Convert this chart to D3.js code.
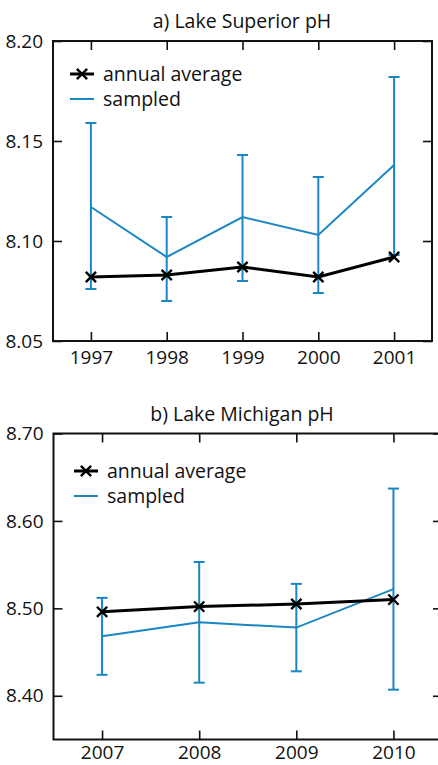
<!doctype html>
<html>
<head>
<meta charset="utf-8">
<script src="https://d3js.org/d3.v7.min.js"></script>
<style>
  body { margin: 0; background: #fff; }
  text { font-family: 'Open Sans', sans-serif; fill: #111; }
  .title { font-size: 19.5px; text-anchor: middle; }
  .tick text { font-size: 19px; }
  .legend { font-size: 19.5px; }
</style>
</head>
<body>
<svg id="chart" width="438" height="765"></svg>
<script>
// a) Lake Superior
const supYears = [1997, 1998, 1999, 2000, 2001];
const supSampled = [8.117, 8.092, 8.112, 8.103, 8.138];
const supUpper = [8.159, 8.112, 8.143, 8.132, 8.182];
const supLower = [8.076, 8.070, 8.080, 8.074, 8.093];
const supAverage = [8.082, 8.083, 8.087, 8.082, 8.092];
const supTicks = [8.05, 8.10, 8.15, 8.20];

// b) Lake Michigan
const micYears = [2007, 2008, 2009, 2010];
const micSampled = [8.468, 8.484, 8.478, 8.522];
const micUpper = [8.512, 8.553, 8.528, 8.637];
const micLower = [8.424, 8.415, 8.428, 8.407];
const micAverage = [8.496, 8.502, 8.505, 8.510];
const micTicks = [8.40, 8.50, 8.60, 8.70];

const blue = "#1a86c3";
const svg = d3.select("#chart");

function drawPanel(p) {
  const g = svg.append("g");
  const x = d3.scaleLinear().domain(p.xdom).range([p.left, p.right]);
  const y = d3.scaleLinear().domain(p.ydom).range([p.bottom, p.top]);
  const tl = 9;

  // ticks, all pointing inward
  g.append("g").attr("transform", `translate(0,${p.bottom})`)
    .call(d3.axisBottom(x).tickValues(p.years).tickFormat(d3.format("d")).tickSizeInner(-tl).tickSizeOuter(0).tickPadding(p.xpad))
    .call(a => a.select(".domain").remove());
  g.append("g").attr("transform", `translate(0,${p.top})`)
    .call(d3.axisTop(x).tickValues(p.years).tickFormat("").tickSizeInner(-tl).tickSizeOuter(0))
    .call(a => a.select(".domain").remove());
  g.append("g").attr("transform", `translate(${p.left},0)`)
    .call(d3.axisLeft(y).tickValues(p.yticks).tickFormat(d3.format(".2f")).tickSizeInner(-tl).tickSizeOuter(0).tickPadding(10))
    .call(a => a.select(".domain").remove());
  g.append("g").attr("transform", `translate(${p.right},0)`)
    .call(d3.axisRight(y).tickValues(p.yticks).tickFormat("").tickSizeInner(-tl).tickSizeOuter(0))
    .call(a => a.select(".domain").remove());
  g.selectAll(".tick line").attr("stroke", "#111").attr("stroke-width", 1.6);

  g.append("rect")
    .attr("x", p.left).attr("y", p.top)
    .attr("width", p.right - p.left).attr("height", p.bottom - p.top)
    .attr("fill", "none").attr("stroke", "#111").attr("stroke-width", 2);

  g.append("text").attr("class", "title")
    .attr("x", 242).attr("y", p.titleY).text(p.title);

  const rows = p.years.map((yr, i) => ({yr, s: p.sampled[i], hi: p.upper[i], lo: p.lower[i], avg: p.average[i]}));

  // error bars
  const eb = g.append("g").attr("stroke", blue).attr("stroke-width", 2);
  eb.selectAll(".bar").data(rows).join("line")
    .attr("x1", d => x(d.yr)).attr("x2", d => x(d.yr))
    .attr("y1", d => y(d.hi)).attr("y2", d => y(d.lo));
  eb.selectAll(".capHi").data(rows).join("line").attr("class", "capHi")
    .attr("x1", d => x(d.yr) - 5.5).attr("x2", d => x(d.yr) + 5.5)
    .attr("y1", d => y(d.hi)).attr("y2", d => y(d.hi));
  eb.selectAll(".capLo").data(rows).join("line").attr("class", "capLo")
    .attr("x1", d => x(d.yr) - 5.5).attr("x2", d => x(d.yr) + 5.5)
    .attr("y1", d => y(d.lo)).attr("y2", d => y(d.lo));

  g.append("path").datum(rows)
    .attr("fill", "none").attr("stroke", blue).attr("stroke-width", 2)
    .attr("d", d3.line().x(d => x(d.yr)).y(d => y(d.s)));

  g.append("path").datum(rows)
    .attr("fill", "none").attr("stroke", "#000").attr("stroke-width", 3)
    .attr("d", d3.line().x(d => x(d.yr)).y(d => y(d.avg)));

  const cross = d3.symbol().type(d3.symbolX).size(70);
  g.selectAll(".mk").data(rows).join("path")
    .attr("transform", d => `translate(${x(d.yr)},${y(d.avg)})`)
    .attr("d", cross).attr("fill", "none").attr("stroke", "#000").attr("stroke-width", 2.4);

  // legend
  const lx = p.legX, ly = p.legY;
  g.append("line").attr("x1", lx).attr("x2", lx + 24).attr("y1", ly).attr("y2", ly)
    .attr("stroke", "#000").attr("stroke-width", 3);
  g.append("path").attr("transform", `translate(${lx + 12},${ly})`)
    .attr("d", cross).attr("fill", "none").attr("stroke", "#000").attr("stroke-width", 2.4);
  g.append("text").attr("class", "legend").attr("x", lx + 33).attr("y", ly + 7).text("annual average");
  g.append("line").attr("x1", lx).attr("x2", lx + 24).attr("y1", ly + 25).attr("y2", ly + 25)
    .attr("stroke", blue).attr("stroke-width", 2);
  g.append("text").attr("class", "legend").attr("x", lx + 33).attr("y", ly + 32).text("sampled");
}

drawPanel({
  title: "a) Lake Superior pH", titleY: 28,
  years: supYears, sampled: supSampled, upper: supUpper, lower: supLower, average: supAverage,
  yticks: supTicks, xdom: [1996.5, 2001.5], ydom: [8.05, 8.20],
  left: 53, right: 432, top: 41, bottom: 341, xpad: 10,
  legX: 70, legY: 74
});

drawPanel({
  title: "b) Lake Michigan pH", titleY: 421,
  years: micYears, sampled: micSampled, upper: micUpper, lower: micLower, average: micAverage,
  yticks: micTicks, xdom: [2006.5, 2010.5], ydom: [8.35, 8.70],
  left: 53.5, right: 442, top: 433.5, bottom: 739.5, xpad: 6,
  legX: 74, legY: 471
});
</script>
</body>
</html>
